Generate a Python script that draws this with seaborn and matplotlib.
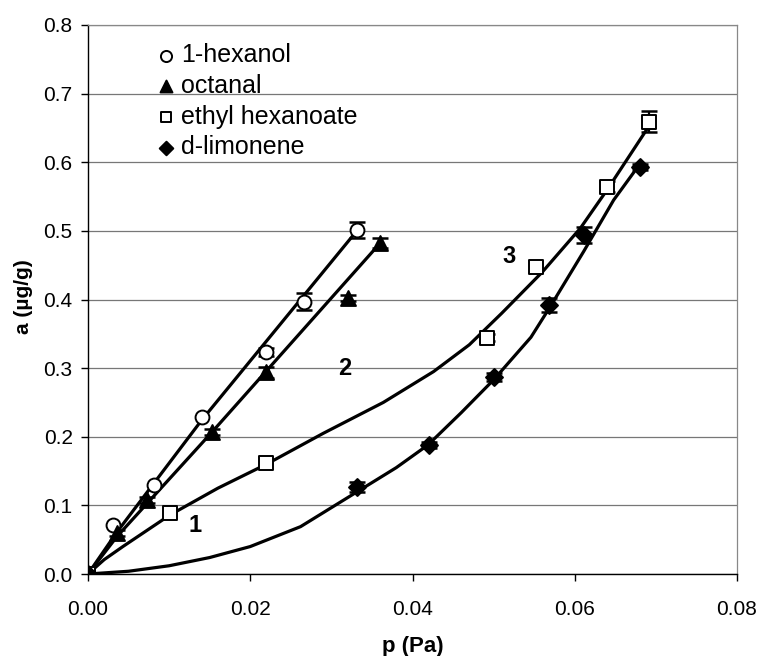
import numpy as np
import pandas as pd
import matplotlib
matplotlib.use("Agg")
import matplotlib.pyplot as plt
import seaborn as sns

# ---- data ----
compounds = ["1-hexanol", "octanal", "ethyl hexanoate", "d-limonene"]

hex_p = [0.0, 0.0031, 0.0081, 0.0141, 0.0220, 0.0266, 0.0332]
hex_a = [0.0, 0.071, 0.130, 0.229, 0.324, 0.397, 0.501]
hex_err = [0.0, 0.0, 0.0, 0.0, 0.006, 0.012, 0.012]

oct_p = [0.0, 0.0036, 0.0073, 0.0153, 0.0220, 0.0321, 0.0360]
oct_a = [0.0, 0.060, 0.108, 0.207, 0.294, 0.402, 0.482]
oct_err = [0.0, 0.004, 0.004, 0.004, 0.008, 0.004, 0.007]

eth_p = [0.0, 0.0101, 0.0220, 0.0492, 0.0552, 0.0640, 0.0692]
eth_a = [0.0, 0.089, 0.162, 0.344, 0.448, 0.564, 0.659]
eth_err = [0.0, 0.0, 0.0, 0.005, 0.0, 0.008, 0.015]

lim_p = [0.0, 0.0332, 0.0420, 0.0500, 0.0568, 0.0611, 0.0680]
lim_a = [0.0, 0.127, 0.188, 0.287, 0.392, 0.494, 0.593]
lim_err = [0.0, 0.007, 0.004, 0.006, 0.010, 0.011, 0.005]

# fitted curves
hex_curve_p = [0.0, 0.0035, 0.0140, 0.0332]
hex_curve_a = [0.0, 0.060, 0.224, 0.501]
oct_curve_p = [0.0, 0.0036, 0.0153, 0.0360]
oct_curve_a = [0.0, 0.055, 0.207, 0.482]
eth_curve_p = [0.0, 0.0020, 0.0043, 0.0101, 0.0160, 0.0220, 0.0290, 0.0364,
               0.0426, 0.0470, 0.0510, 0.0560, 0.0607, 0.0640, 0.0690]
eth_curve_a = [0.0, 0.021, 0.040, 0.086, 0.125, 0.160, 0.205, 0.250,
               0.295, 0.334, 0.380, 0.440, 0.504, 0.560, 0.650]
lim_curve_p = [0.0, 0.0050, 0.0100, 0.0150, 0.0200, 0.0262, 0.0332, 0.0380,
               0.0419, 0.0460, 0.0500, 0.0546, 0.0570, 0.0611, 0.0648, 0.0680]
lim_curve_a = [0.0, 0.004, 0.012, 0.024, 0.040, 0.069, 0.120, 0.155,
               0.188, 0.235, 0.283, 0.345, 0.390, 0.470, 0.545, 0.597]

curve_labels = ["1", "2", "3"]
curve_label_p = [0.0132, 0.0317, 0.0519]
curve_label_a = [0.070, 0.300, 0.462]

x_ticks = [0.00, 0.02, 0.04, 0.06, 0.08]
y_ticks = [0.0, 0.1, 0.2, 0.3, 0.4, 0.5, 0.6, 0.7, 0.8]

# ---- styling ----
sns.set_theme(style="white")
plt.rcParams["font.family"] = ["Liberation Sans", "DejaVu Sans"]
plt.rcParams["text.color"] = "black"
plt.rcParams["axes.labelcolor"] = "black"
plt.rcParams["xtick.color"] = "black"
plt.rcParams["ytick.color"] = "black"

fig = plt.figure(figsize=(7.58, 6.56), dpi=100)
ax = fig.add_axes([88 / 758, 1 - 574 / 656, (737 - 88) / 758, (574 - 25) / 656])

series = [
    (hex_p, hex_a, hex_err, hex_curve_p, hex_curve_a, "o", "white", 100),
    (oct_p, oct_a, oct_err, oct_curve_p, oct_curve_a, "^", "black", 115),
    (eth_p, eth_a, eth_err, eth_curve_p, eth_curve_a, "s", "white", 90),
    (lim_p, lim_a, lim_err, lim_curve_p, lim_curve_a, "D", "black", 75),
]

for name, (p, a, err, cp, ca, mk, fc, sz) in zip(compounds, series):
    sns.lineplot(x=cp, y=ca, ax=ax, color="black", linewidth=2.3,
                 sort=False, estimator=None, zorder=2)
    p_arr, a_arr, e_arr = np.array(p), np.array(a), np.array(err)
    m = e_arr > 0
    ax.errorbar(p_arr[m], a_arr[m], yerr=e_arr[m], fmt="none", ecolor="black",
                elinewidth=1.6, capsize=6, capthick=1.8, zorder=3)
    sns.scatterplot(x=p, y=a, ax=ax, marker=mk, s=sz, color=fc,
                    edgecolor="black", linewidth=1.4, label=name, zorder=4)

for t, xp, ya in zip(curve_labels, curve_label_p, curve_label_a):
    ax.text(xp, ya, t, fontsize=17, fontweight="bold", ha="center", va="center",
            color="black")

ax.set_xlim(0, 0.08)
ax.set_ylim(0, 0.8)
ax.set_xticks(x_ticks)
ax.set_yticks(y_ticks)
ax.set_xticklabels([f"{v:.2f}" for v in x_ticks], fontsize=15)
ax.set_yticklabels([f"{v:.1f}" for v in y_ticks], fontsize=15)
ax.tick_params(axis="both", direction="out", length=5, width=1, color="black",
               labelcolor="black", bottom=True, left=True)
ax.tick_params(axis="y", pad=6)
ax.tick_params(axis="x", pad=14)

ax.yaxis.grid(True, color="#777777", linewidth=0.9)
ax.xaxis.grid(False)
ax.set_axisbelow(True)
for s in ["left", "bottom"]:
    ax.spines[s].set_color("black")
    ax.spines[s].set_linewidth(1.0)
for s in ["top", "right"]:
    ax.spines[s].set_color("#888888")
    ax.spines[s].set_linewidth(0.9)

ax.set_xlabel("p (Pa)", fontsize=16, fontweight="bold", color="black")
ax.set_ylabel("a (µg/g)", fontsize=15, fontweight="bold", color="black")
ax.xaxis.set_label_coords(0.5, -0.113)
ax.yaxis.set_label_coords(-0.085, 0.506)

leg = ax.legend(loc="upper left", bbox_to_anchor=(0.09, 0.985), frameon=False,
                fontsize=18, handletextpad=0.2, labelspacing=0.27,
                handlelength=0.8, borderaxespad=0.0, markerscale=0.8)
for txt in leg.get_texts():
    txt.set_color("black")

fig.savefig("out.png", dpi=100)
